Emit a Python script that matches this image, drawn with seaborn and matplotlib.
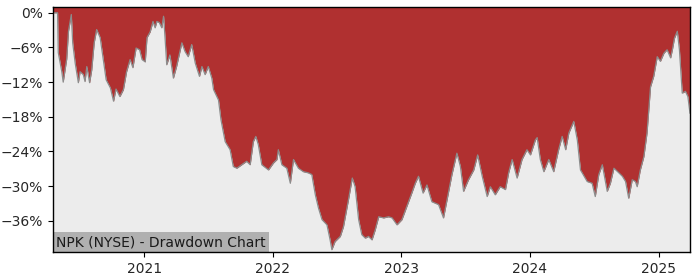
import matplotlib
matplotlib.use("Agg")
import matplotlib.pyplot as plt
import matplotlib.dates as mdates
from matplotlib.ticker import FuncFormatter, FixedLocator
import seaborn as sns
import pandas as pd

title_text = "NPK (NYSE) - Drawdown Chart"

dates = [
    "2020-04-17", "2020-04-30", "2020-05-02", "2020-05-12", "2020-05-16", "2020-05-26",
    "2020-05-31", "2020-06-08", "2020-06-12", "2020-06-19", "2020-06-28", "2020-07-03",
    "2020-07-12", "2020-07-17", "2020-07-22", "2020-07-30", "2020-08-05", "2020-08-12",
    "2020-08-19", "2020-08-29", "2020-09-07", "2020-09-15", "2020-09-27", "2020-10-06",
    "2020-10-13", "2020-10-24", "2020-11-03", "2020-11-12", "2020-11-22", "2020-11-30",
    "2020-12-09", "2020-12-19", "2020-12-26", "2021-01-04", "2021-01-09", "2021-01-18",
    "2021-01-26", "2021-02-01", "2021-02-06", "2021-02-13", "2021-02-20", "2021-02-25",
    "2021-03-01", "2021-03-06", "2021-03-15", "2021-03-25", "2021-04-03", "2021-04-18",
    "2021-04-27", "2021-05-06", "2021-05-16", "2021-05-26", "2021-06-07", "2021-06-14",
    "2021-06-23", "2021-07-02", "2021-07-12", "2021-07-17", "2021-07-31", "2021-08-07",
    "2021-08-19", "2021-09-02", "2021-09-11", "2021-09-21", "2021-10-05", "2021-10-19",
    "2021-10-29", "2021-11-07", "2021-11-14", "2021-11-21", "2021-12-01", "2021-12-20",
    "2022-01-03", "2022-01-13", "2022-01-17", "2022-01-27", "2022-02-10", "2022-02-20",
    "2022-03-01", "2022-03-15", "2022-03-29", "2022-04-12", "2022-04-22", "2022-05-02",
    "2022-05-11", "2022-05-21", "2022-06-04", "2022-06-13", "2022-06-18", "2022-06-27",
    "2022-07-12", "2022-07-21", "2022-08-04", "2022-08-15", "2022-08-23", "2022-09-02",
    "2022-09-11", "2022-09-21", "2022-09-30", "2022-10-10", "2022-10-19", "2022-10-29",
    "2022-11-12", "2022-11-26", "2022-12-06", "2022-12-20", "2023-01-03", "2023-01-17",
    "2023-01-31", "2023-02-10", "2023-02-19", "2023-03-04", "2023-03-15", "2023-03-29",
    "2023-04-17", "2023-05-01", "2023-05-11", "2023-05-25", "2023-06-08", "2023-06-18",
    "2023-06-27", "2023-07-11", "2023-07-26", "2023-08-06", "2023-08-19", "2023-09-02",
    "2023-09-11", "2023-09-25", "2023-10-09", "2023-10-24", "2023-11-02", "2023-11-12",
    "2023-11-26", "2023-12-10", "2023-12-24", "2024-01-03", "2024-01-17", "2024-01-22",
    "2024-01-31", "2024-02-10", "2024-02-24", "2024-03-09", "2024-03-23", "2024-04-02",
    "2024-04-12", "2024-04-21", "2024-05-05", "2024-05-15", "2024-05-24", "2024-06-12",
    "2024-06-26", "2024-07-05", "2024-07-15", "2024-07-25", "2024-08-08", "2024-08-17",
    "2024-08-27", "2024-09-10", "2024-09-20", "2024-09-29", "2024-10-08", "2024-10-18",
    "2024-10-27", "2024-11-01", "2024-11-10", "2024-11-20", "2024-11-29", "2024-12-09",
    "2024-12-18", "2024-12-28", "2025-01-06", "2025-01-16", "2025-01-25", "2025-02-04",
    "2025-02-09", "2025-02-15", "2025-02-23", "2025-03-01", "2025-03-09", "2025-03-18",
    "2025-03-25", "2025-03-31",
]

drawdown = [
    0.0, 0.0, -6.9, -10.2, -12.0, -8.0,
    -3.2, -0.3, -5.2, -8.7, -12.1, -10.2,
    -10.7, -11.9, -9.3, -12.1, -9.9, -5.2,
    -2.9, -4.3, -8.1, -11.6, -13.0, -15.3,
    -13.2, -14.5, -13.3, -10.2, -8.1, -9.5,
    -6.1, -6.4, -8.1, -8.5, -4.3, -3.3,
    -1.5, -2.6, -1.5, -1.7, -2.6, -0.6,
    -4.1, -9.0, -7.3, -11.3, -9.3, -5.2,
    -6.7, -7.6, -5.5, -8.7, -11.0, -9.3,
    -10.7, -9.3, -11.3, -13.3, -15.1, -18.5,
    -22.3, -23.7, -26.6, -26.9, -26.3, -25.7,
    -26.3, -22.3, -21.4, -22.8, -26.3, -27.2,
    -26.0, -25.4, -23.7, -26.3, -26.9, -29.5,
    -25.4, -26.9, -27.5, -27.7, -28.0, -31.5,
    -33.8, -35.8, -36.7, -39.3, -41.0, -39.6,
    -38.7, -37.0, -32.4, -28.6, -30.1, -35.8,
    -38.4, -39.0, -38.7, -39.3, -37.6, -35.3,
    -35.5, -35.3, -35.5, -36.7, -35.8, -33.5,
    -31.2, -29.5, -28.3, -31.2, -29.8, -32.7,
    -33.2, -35.5, -32.4, -28.0, -24.3, -26.6,
    -30.9, -28.9, -27.2, -24.6, -28.3, -31.8,
    -30.1, -31.5, -30.1, -30.6, -27.7, -25.4,
    -28.6, -25.4, -23.7, -24.6, -22.0, -21.6,
    -25.4, -27.5, -25.4, -27.5, -23.7, -21.4,
    -23.7, -20.8, -18.8, -22.0, -27.2, -29.2,
    -29.5, -31.8, -28.0, -26.3, -30.9, -29.5,
    -26.9, -27.7, -28.3, -29.2, -32.1, -28.9,
    -29.2, -30.1, -27.2, -24.9, -20.8, -12.8,
    -11.0, -7.6, -8.4, -7.0, -6.4, -7.8,
    -6.4, -4.4, -3.2, -6.4, -13.9, -13.6,
    -14.5, -17.4,
]

y_ticks = [0, -6, -12, -18, -24, -30, -36]

df = pd.DataFrame({"date": pd.to_datetime(dates), "dd": drawdown})

y_top = 1.0
y_bottom = -41.4

sns.set_style("white")
fig = plt.figure(figsize=(7, 2.8), dpi=100)
ax = fig.add_axes([0.0757, 0.1, 0.91, 0.875])
ax.set_facecolor("#ececec")

ax.fill_between(df["date"], df["dd"], y_top, color="#b03030", linewidth=0, zorder=2)
sns.lineplot(data=df, x="date", y="dd", ax=ax, color="#8c8c8c", linewidth=0.9, zorder=3)

ax.set_xlim(df["date"].min(), df["date"].max())
ax.set_ylim(y_bottom, y_top)
ax.yaxis.set_major_locator(FixedLocator(y_ticks))
ax.yaxis.set_major_formatter(FuncFormatter(lambda v, p: f"{v:.0f}%".replace("-", "\u2212")))
ax.xaxis.set_major_locator(mdates.YearLocator())
ax.xaxis.set_major_formatter(mdates.DateFormatter("%Y"))
ax.set_xlabel("")
ax.set_ylabel("")
ax.tick_params(axis="both", labelsize=10, length=3.5, width=0.8, left=True, bottom=True, color="black")
for s in ax.spines.values():
    s.set_visible(True)
    s.set_color("black")
    s.set_linewidth(1.0)
    s.set_zorder(6)

ax.text(0.005, 0.012, title_text, transform=ax.transAxes, fontsize=10, color="#1a1a1a",
        ha="left", va="bottom", zorder=5,
        bbox=dict(facecolor="#b0b0b0", edgecolor="none", pad=2.5))

fig.savefig("out.png", dpi=100)
